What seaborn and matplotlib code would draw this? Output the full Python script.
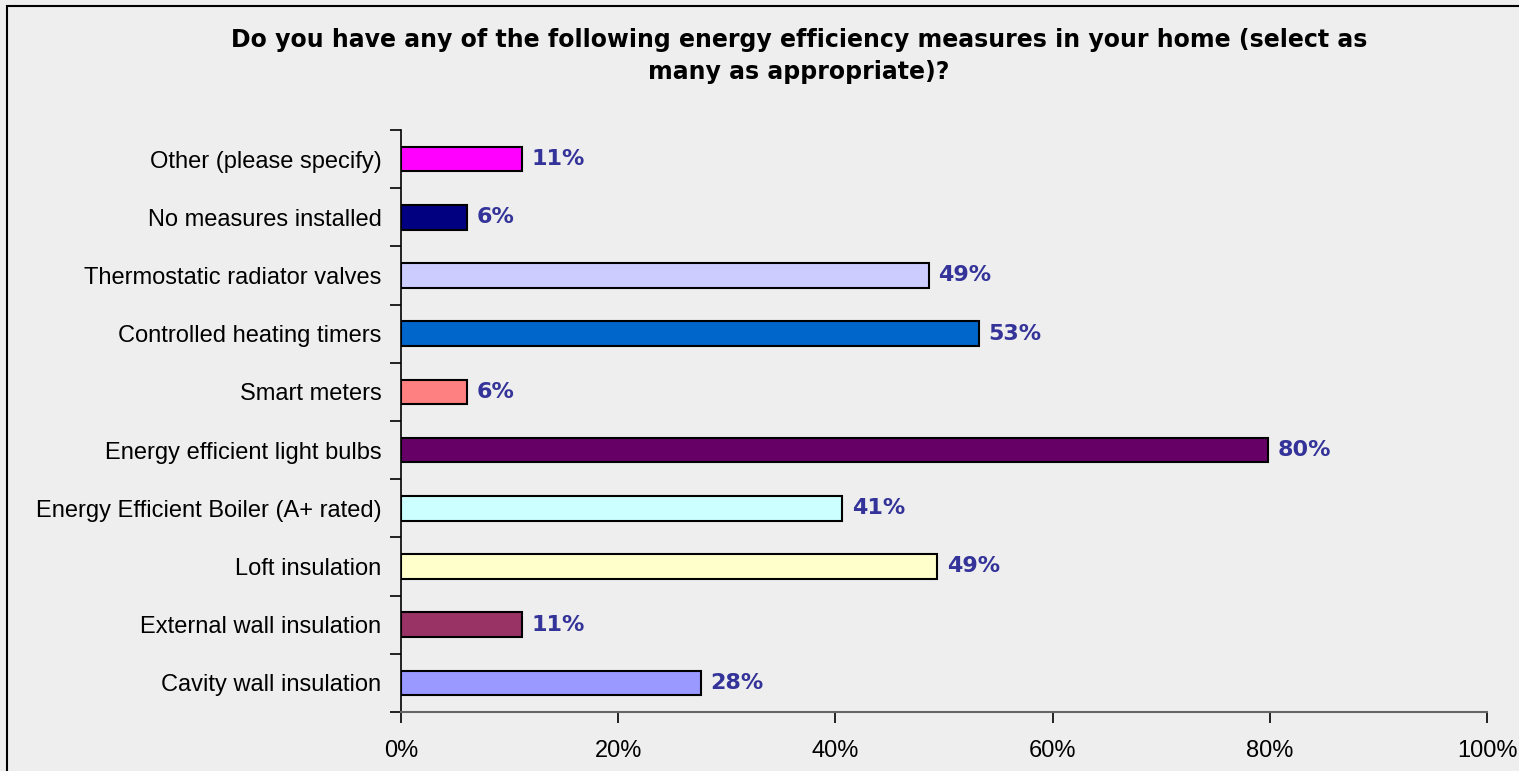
import pandas as pd
import matplotlib.pyplot as plt
import seaborn as sns
from matplotlib.patches import Rectangle
from matplotlib.ticker import FixedLocator, PercentFormatter

# Data (top to bottom as shown)
measures = [
    "Other (please specify)",
    "No measures installed",
    "Thermostatic radiator valves",
    "Controlled heating timers",
    "Smart meters",
    "Energy efficient light bulbs",
    "Energy Efficient Boiler (A+ rated)",
    "Loft insulation",
    "External wall insulation",
    "Cavity wall insulation",
]
shares = [11.1, 6.1, 48.6, 53.2, 6.1, 79.8, 40.6, 49.4, 11.1, 27.6]
bar_colors = ["#FF00FF", "#000080", "#CCCCFF", "#0066CC", "#FF8080",
              "#660066", "#CCFFFF", "#FFFFCC", "#993366", "#9999FF"]

title = ("Do you have any of the following energy efficiency measures in your home (select as\n"
         "many as appropriate)?")

df = pd.DataFrame({"measure": measures, "share": shares})

sns.set_style("white")
plt.rcParams["font.family"] = ["Liberation Sans", "DejaVu Sans"]
plt.rcParams["text.color"] = "black"
plt.rcParams["xtick.color"] = "black"
plt.rcParams["ytick.color"] = "black"
plt.rcParams["xtick.labelcolor"] = "black"
plt.rcParams["ytick.labelcolor"] = "black"

bg = "#EEEEEE"
fig = plt.figure(figsize=(15.19, 7.71), dpi=100, facecolor=bg)
ax = fig.add_axes([401 / 1519, 1 - 712 / 771, 1086 / 1519, 582 / 771])
ax.set_facecolor(bg)

sns.barplot(data=df, y="measure", x="share", hue="measure", order=measures,
            palette=dict(zip(measures, bar_colors)), legend=False,
            width=0.42, edgecolor="black", linewidth=1.5, saturation=1, ax=ax)

# Value labels
for cont in ax.containers:
    ax.bar_label(cont, labels=[f"{round(v)}%" for v in cont.datavalues],
                 padding=7, color="#333399", fontsize=16, fontweight="bold",
                 family="DejaVu Sans")

ax.set_xlim(0, 100)
ax.set_ylim(len(measures) - 0.5, -0.5)
ax.xaxis.set_major_locator(FixedLocator([0, 20, 40, 60, 80, 100]))
ax.xaxis.set_major_formatter(PercentFormatter(decimals=0))
ax.set_xlabel("")
ax.set_ylabel("")

# Category ticks between bars
ax.yaxis.set_minor_locator(FixedLocator([i - 0.5 for i in range(len(measures) + 1)]))
ax.tick_params(axis="y", which="major", left=True, length=0, pad=14, labelsize=17)
ax.tick_params(axis="y", which="minor", left=True, length=8, width=1.2, color="black",
               direction="out")
ax.tick_params(axis="x", which="major", bottom=True, length=8, width=1.2, color="black",
               direction="out", labelsize=17, pad=12)

for side in ["top", "right"]:
    ax.spines[side].set_visible(False)
ax.spines["left"].set_color("black")
ax.spines["left"].set_linewidth(1.2)
ax.spines["bottom"].set_color("#666666")
ax.spines["bottom"].set_linewidth(1.5)

fig.text(799 / 1519, 1 - 56 / 771, title, ha="center", va="center",
         fontsize=17, fontweight="bold", linespacing=1.4, family="DejaVu Sans")

# Outer chart border
fig.patches.append(Rectangle((7 / 1519, -0.1), 1.2, 1.1 - 6 / 771,
                             transform=fig.transFigure, fill=False,
                             edgecolor="black", linewidth=1.5))

fig.savefig("out.png", dpi=100, facecolor=bg)
